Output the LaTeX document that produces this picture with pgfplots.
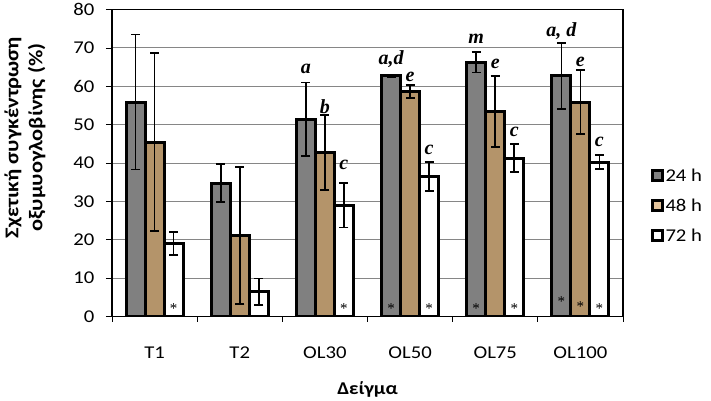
\documentclass[border=0pt]{standalone}
\usepackage{fontspec}
\setmainfont{Carlito}[FakeStretch=1.15]
\newfontfamily\lserif{Liberation Serif}
\usepackage{pgfplots}
\pgfplotsset{compat=1.18}
\definecolor{g24}{RGB}{128,128,128}
\definecolor{t48}{RGB}{180,148,106}
\definecolor{t48l}{RGB}{228,196,156}
\definecolor{gridc}{RGB}{134,134,134}
\begin{document}
\begin{tikzpicture}
\begin{axis}[
  at={(0,0)}, anchor=south west,
  scale only axis, width=511pt, height=307pt,
  xmin=0.5, xmax=6.5, ymin=0, ymax=80,
  /pgf/number format/assume math mode=true,
  font=\fontsize{18}{21}\selectfont,
  axis line style={black, line width=1.2pt},
  tick pos=left,
  ytick={0,10,...,80},
  ymajorgrids, grid style={gridc, line width=0.9pt},
  y tick style={black, line width=0.8pt},
  tick align=outside, major tick length=6pt,
  yticklabel style={anchor=east, xshift=-8pt},
  xtick={1,...,6},
  xticklabels={T1,T2,OL30,OL50,OL75,OL100},
  x tick style={draw=none},
  xticklabel style={yshift=-21pt},
  extra x ticks={0.5,1.5,2.5,3.5,4.5,5.5,6.5},
  extra x tick labels={},
  extra x tick style={grid=none, x tick style={draw=black, line width=0.8pt}, major tick length=5pt},
  xlabel={\bfseries Δείγμα},
  xlabel style={at={(axis description cs:0.5,0)}, anchor=center, yshift=-73pt},
  ylabel={\bfseries Σχετική συγκέντρωση\\\bfseries οξυμυογλοβίνης (\%)},
  ylabel style={at={(axis description cs:-0.1703,0.583)}, anchor=center, align=center, font=\fontsize{19.5}{24}\selectfont},
  legend style={at={(axis description cs:1.055,0.3616)}, anchor=west, draw=none, fill=none,
    row sep=12pt, font=\fontsize{18}{21}\selectfont, inner sep=0pt},
  legend cell align=left,
  error bars/error bar style={black, line width=1.8pt},
  error bars/error mark options={black, rotate=90, mark size=4.5pt, line width=1.8pt},
]
% 24 h
\addplot[ybar, bar width=19pt, bar shift=0pt, fill=g24, draw=black, line width=3pt,
  error bars/.cd, y dir=both, y explicit,
  /pgfplots/legend image code/.code={\draw[fill=g24, draw=black, line width=2.2pt] (0pt,-5pt) rectangle (10pt,5pt);}]
  table[x=x, y=y, y error=e] {
x y e
0.7769 55.9 17.6
1.7769 34.8 5.0
2.7769 51.4 9.6
3.7769 62.7 0.4
4.7769 66.3 2.7
5.7769 62.7 8.6
};
\addlegendentry{24 h}
% 48 h
\addplot[ybar, bar width=19pt, bar shift=0pt, fill=t48, draw=black, line width=3pt,
  error bars/.cd, y dir=both, y explicit,
  /pgfplots/legend image code/.code={\draw[fill=t48l, draw=black, line width=2.2pt] (0pt,-5pt) rectangle (10pt,5pt);}]
  table[x=x, y=y, y error=e] {
x y e
1 45.4 23.2
2 21.1 17.8
3 42.8 9.8
4 58.6 1.7
5 53.4 9.3
6 55.9 8.4
};
\addlegendentry{48 h}
% 72 h
\addplot[ybar, bar width=19pt, bar shift=0pt, fill=white, draw=black, line width=3pt,
  error bars/.cd, y dir=both, y explicit,
  /pgfplots/legend image code/.code={\draw[fill=white, draw=black, line width=2.2pt] (0pt,-5pt) rectangle (10pt,5pt);}]
  table[x=x, y=y, y error=e] {
x y e
1.2231 19.0 3.0
2.2231 6.5 3.4
3.2231 29.0 5.8
4.2231 36.5 3.7
5.2231 41.3 3.7
6.2231 40.2 1.8
};
\addlegendentry{72 h}
% significance letters
\addplot[forget plot, draw=none, mark=none, point meta=explicit symbolic,
  nodes near coords, nodes near coords align={center},
  every node near coord/.append style={anchor=center, inner sep=0pt, font=\fontsize{20}{20}\selectfont\lserif\bfseries\itshape}]
  coordinates {
(2.7769,64.6) [a]
(3.7769,67.2) [{a,d}]
(4.7769,72.4) [m]
(5.7769,74.5) [{a, d}]
(3,54.6) [b]
(4,62.5) [e]
(5,65.9) [e]
(6,66.4) [e]
(3.2231,39.5) [c]
(4.2231,43.4) [c]
(5.2231,48.1) [c]
(6.2231,45.5) [c]
};
% asterisks
\addplot[forget plot, draw=none, mark=none, point meta=explicit symbolic,
  nodes near coords, nodes near coords align={center},
  every node near coord/.append style={anchor=center, inner sep=0pt, font=\fontsize{15}{15}\selectfont\lserif}]
  coordinates {
(1.2231,2.0) [*]
(3.2231,2.0) [*]
(3.7769,2.0) [*]
(4.2231,2.0) [*]
(4.7769,2.0) [*]
(5.2231,2.0) [*]
(5.7769,3.8) [*]
(6,2.6) [*]
(6.2231,2.0) [*]
};
\end{axis}
\path[use as bounding box] (-112pt,-84pt) rectangle (599pt,314pt);
\end{tikzpicture}
\end{document}
